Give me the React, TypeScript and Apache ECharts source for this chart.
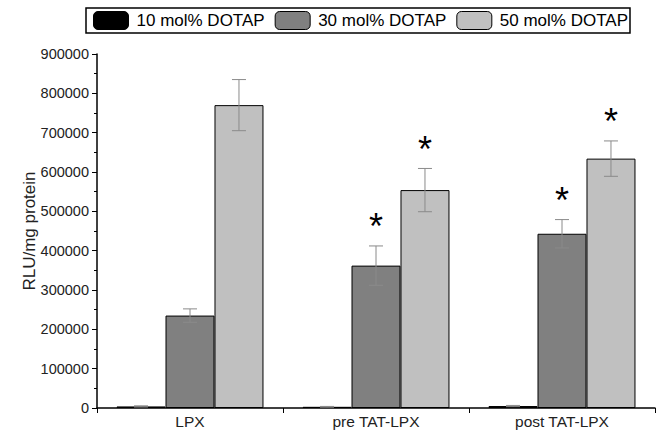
import React, { useEffect, useRef } from "react";
import * as echarts from "echarts";

const categories = ["LPX", "pre TAT-LPX", "post TAT-LPX"];
const seriesNames = ["10 mol% DOTAP", "30 mol% DOTAP", "50 mol% DOTAP"];
const values10 = [4000, 3000, 5000];
const values30 = [235000, 362000, 443000];
const values50 = [770000, 554000, 634000];
const err10 = [1500, 1000, 1500];
const err30 = [17000, 50000, 36000];
const err50 = [65000, 55000, 45000];
const sig10 = [false, false, false];
const sig30 = [false, true, true];
const sig50 = [false, true, true];
const yTicks = [0, 100000, 200000, 300000, 400000, 500000, 600000, 700000, 800000, 900000];

const colors = ["#000000", "#808080", "#c0c0c0"];
const FONT = "Liberation Sans, Arial, sans-serif";
const CAT_GAP = 0.21;

export default function App() {
  const ref = useRef<HTMLDivElement>(null);
  useEffect(() => {
    if (!ref.current) return;
    const chart = echarts.init(ref.current, null, { renderer: "svg" });
    const vals = [values10, values30, values50];
    const errs = [err10, err30, err50];
    const sigs = [sig10, sig30, sig50];

    const barSeries = seriesNames.map((name, i) => ({
      name,
      type: "bar",
      data: vals[i],
      barGap: "0%",
      barCategoryGap: CAT_GAP * 100 + "%",
      itemStyle: { color: colors[i], borderColor: "#000", borderWidth: 1 },
      z: 2,
    }));

    const errSeries = seriesNames.map((name, i) => ({
      type: "custom",
      name: name + " err",
      z: 5,
      silent: true,
      data: categories.map((_, k) => [k, vals[i][k], errs[i][k], sigs[i][k] ? 1 : 0]),
      renderItem: (params: any, api: any) => {
        const k = api.value(0);
        const v = api.value(1);
        const e = api.value(2);
        const s = api.value(3);
        const band = api.size([1, 0])[0];
        const bw = (band * (1 - CAT_GAP)) / 3;
        const cx = api.coord([k, v])[0] + (i - 1) * bw;
        const yTop = api.coord([k, v + e])[1];
        const yBot = api.coord([k, v - e])[1];
        const cap = 7;
        const st = { stroke: "#8a8a8a", lineWidth: 1 };
        const children: any[] = [
          { type: "line", shape: { x1: cx, y1: yTop, x2: cx, y2: yBot }, style: st },
          { type: "line", shape: { x1: cx - cap, y1: yTop, x2: cx + cap, y2: yTop }, style: st },
          { type: "line", shape: { x1: cx - cap, y1: yBot, x2: cx + cap, y2: yBot }, style: st },
        ];
        if (s) {
          children.push({
            type: "text",
            style: {
              text: "*",
              x: cx,
              y: yTop - 1,
              align: "center",
              verticalAlign: "bottom",
              fontSize: 36,
              fontFamily: FONT,
              fill: "#000",
            },
          });
        }
        return { type: "group", children };
      },
    }));

    chart.setOption({
      animation: false,
      textStyle: { fontFamily: FONT },
      legend: {
        data: seriesNames.map((n) => ({ name: n })),
        left: 86,
        top: 8,
        orient: "horizontal",
        padding: [3, 2, 3, 7],
        itemWidth: 35,
        itemHeight: 18,
        itemGap: 10,
        borderColor: "#000",
        borderWidth: 1.5,
        itemStyle: { borderColor: "#000", borderWidth: 1 },
        textStyle: { fontSize: 17, color: "#000", fontFamily: FONT, padding: [0, 0, 0, 3] },
        selectedMode: false,
      },
      grid: { left: 97, right: 8, top: 54, bottom: 25, containLabel: false },
      xAxis: {
        type: "category",
        data: categories,
        boundaryGap: true,
        axisLine: { lineStyle: { color: "#000", width: 1.5 } },
        axisTick: { show: true, length: 5, alignWithLabel: false, lineStyle: { color: "#000" } },
        axisLabel: { fontSize: 15.5, color: "#222", margin: 5, fontFamily: FONT },
      },
      yAxis: {
        type: "value",
        min: 0,
        max: 900000,
        interval: 100000,
        name: "RLU/mg protein",
        nameLocation: "middle",
        nameGap: 59,
        nameMoveOverlap: false,
        nameTextStyle: { fontSize: 17, color: "#222", fontFamily: FONT },
        axisLine: { show: true, lineStyle: { color: "#000", width: 1.5 } },
        axisTick: { show: true, length: 5, lineStyle: { color: "#000" } },
        minorTick: { show: true, splitNumber: 2, length: 3, lineStyle: { color: "#000" } },
        splitLine: { show: false },
        axisLabel: {
          fontSize: 14.5,
          color: "#222",
          margin: 8,
          fontFamily: FONT,
          formatter: (v: number) => (yTicks.includes(v) ? String(v) : ""),
        },
      },
      series: [...barSeries, ...errSeries],
    });
    return () => chart.dispose();
  }, []);
  return <div ref={ref} style={{ width: 663, height: 433, position: "absolute", left: 0, top: 0, background: "#fff" }} />;
}
